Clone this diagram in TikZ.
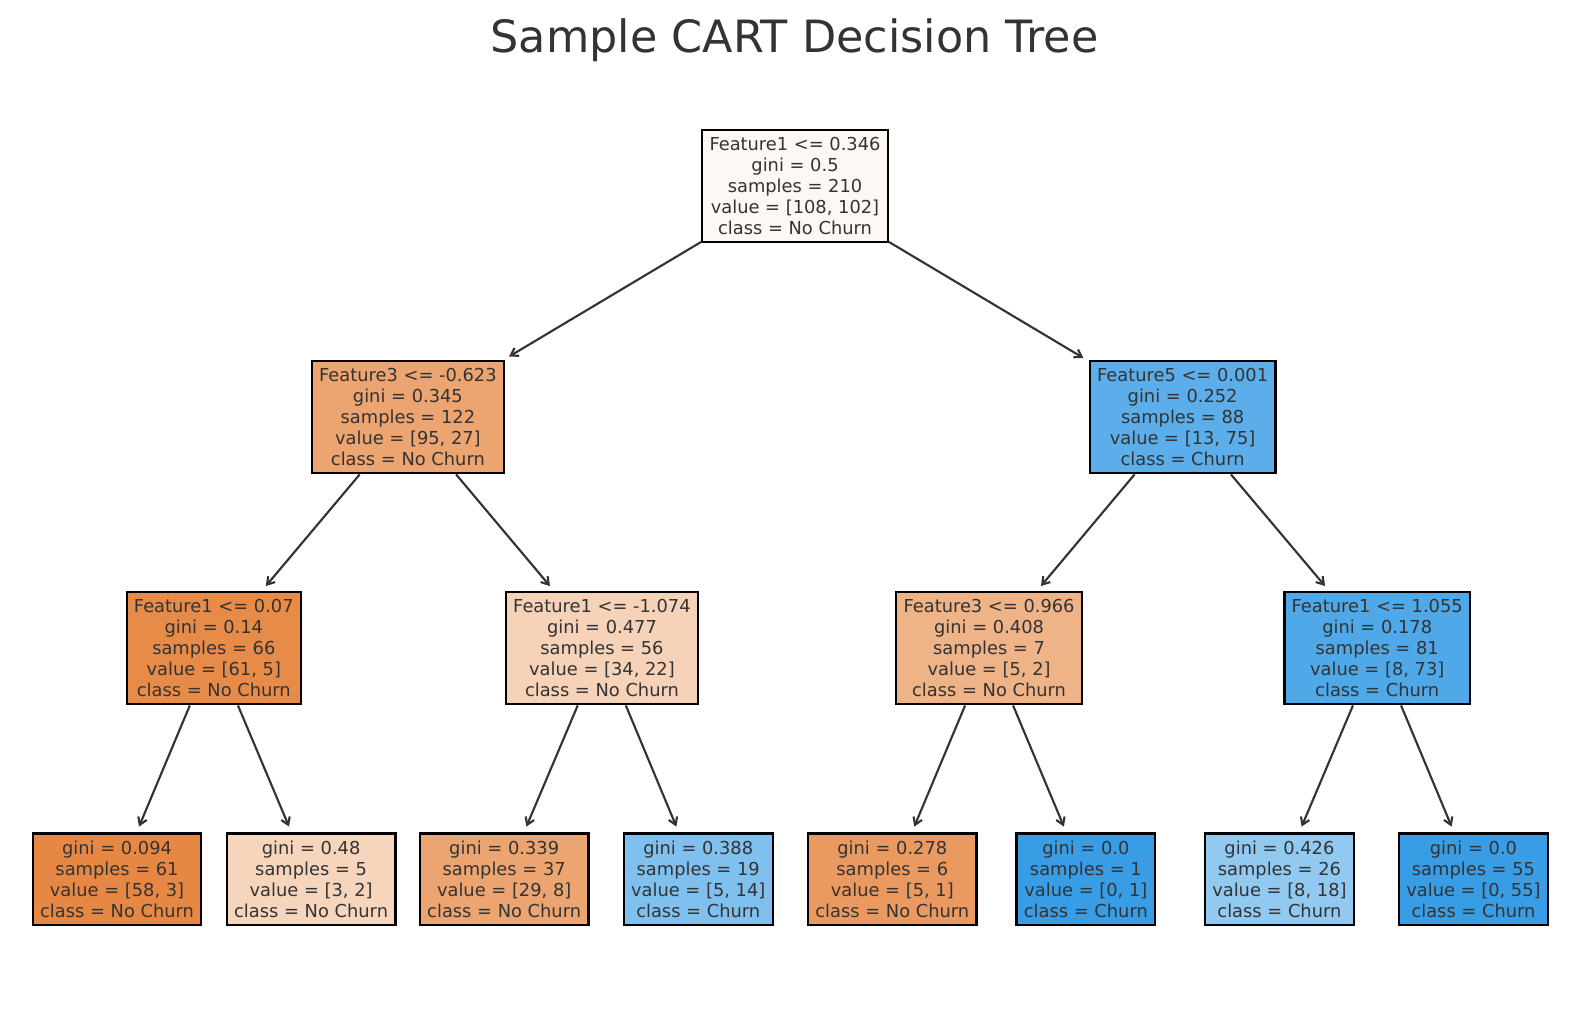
\documentclass[tikz,border=0pt]{standalone}
\usepackage{fontspec}
\setmainfont{DejaVu Sans}
\usepackage{tikz}
\usetikzlibrary{arrows.meta}
\usepackage{xcolor}
\definecolor{inkgray}{RGB}{51,51,51}
\definecolor{cRoot}{RGB}{254,248,244}
\definecolor{cL}{RGB}{236,165,113}
\definecolor{cR}{RGB}{91,174,234}
\definecolor{cLL}{RGB}{231,139,73}
\definecolor{cLR}{RGB}{246,210,185}
\definecolor{cRL}{RGB}{239,179,136}
\definecolor{cRR}{RGB}{79,168,232}
\definecolor{cLLL}{RGB}{230,136,67}
\definecolor{cLLR}{RGB}{246,213,189}
\definecolor{cLRL}{RGB}{236,164,112}
\definecolor{cLRR}{RGB}{128,192,238}
\definecolor{cRLL}{RGB}{234,154,97}
\definecolor{cRLR}{RGB}{57,157,229}
\definecolor{cRRL}{RGB}{145,201,241}
\definecolor{cRRR}{RGB}{57,157,229}

\begin{document}
\begin{tikzpicture}[x=1pt,y=-1pt,
  treebox/.style={draw=black,line width=2.3pt,align=center,text=inkgray,
    inner xsep=7.2pt,inner ysep=7pt,font=\fontsize{17.6}{20.9}\selectfont},
  edge/.style={inkgray,line width=2.1pt,shorten >=6pt,
    -{Straight Barb[length=7pt,width=9pt,line width=2.1pt]}}]
\useasboundingbox (0,0) rectangle (1568,1001);
\node[text=inkgray,font=\fontsize{43.9}{50}\selectfont] (title) at (784,40) {Sample CART Decision Tree};
% level 0 and 1
\node[treebox,fill=cRoot] (N)   at (784.5,183.5) {Feature1 <= 0.346\\gini = 0.5\\samples = 210\\value = [108, 102]\\class = No Churn};
\node[treebox,fill=cL]    (NL)  at (402.5,411.5) {Feature3 <= -0.623\\gini = 0.345\\samples = 122\\value = [95, 27]\\class = No Churn};
\node[treebox,fill=cR]    (NR)  at (1167,411.5)  {Feature5 <= 0.001\\gini = 0.252\\samples = 88\\value = [13, 75]\\class = Churn};
% level 2
\node[treebox,fill=cLL] (NLL) at (211,639.5)  {Feature1 <= 0.07\\gini = 0.14\\samples = 66\\value = [61, 5]\\class = No Churn};
\node[treebox,fill=cLR] (NLR) at (594,639.5)  {Feature1 <= -1.074\\gini = 0.477\\samples = 56\\value = [34, 22]\\class = No Churn};
\node[treebox,fill=cRL] (NRL) at (976,639.5)  {Feature3 <= 0.966\\gini = 0.408\\samples = 7\\value = [5, 2]\\class = No Churn};
\node[treebox,fill=cRR] (NRR) at (1359,639.5) {Feature1 <= 1.055\\gini = 0.178\\samples = 81\\value = [8, 73]\\class = Churn};
% leaves
\node[treebox,fill=cLLL] (NLLL) at (115.5,867.5)  {gini = 0.094\\samples = 61\\value = [58, 3]\\class = No Churn};
\node[treebox,fill=cLLR] (NLLR) at (307,867.5)    {gini = 0.48\\samples = 5\\value = [3, 2]\\class = No Churn};
\node[treebox,fill=cLRL] (NLRL) at (497.5,867.5)  {gini = 0.339\\samples = 37\\value = [29, 8]\\class = No Churn};
\node[treebox,fill=cLRR] (NLRR) at (689,867.5)    {gini = 0.388\\samples = 19\\value = [5, 14]\\class = Churn};
\node[treebox,fill=cRLL] (NRLL) at (880.5,867.5)  {gini = 0.278\\samples = 6\\value = [5, 1]\\class = No Churn};
\node[treebox,fill=cRLR] (NRLR) at (1071.5,867.5) {gini = 0.0\\samples = 1\\value = [0, 1]\\class = Churn};
\node[treebox,fill=cRRL] (NRRL) at (1262.5,867.5) {gini = 0.426\\samples = 26\\value = [8, 18]\\class = Churn};
\node[treebox,fill=cRRR] (NRRR) at (1454,867.5)   {gini = 0.0\\samples = 55\\value = [0, 55]\\class = Churn};
% edges
\foreach \p/\c in {N/NL,N/NR,NL/NLL,NL/NLR,NR/NRL,NR/NRR,
  NLL/NLLL,NLL/NLLR,NLR/NLRL,NLR/NLRR,NRL/NRLL,NRL/NRLR,NRR/NRRL,NRR/NRRR}
  \draw[edge] (\p) -- (\c);
\end{tikzpicture}
\end{document}
